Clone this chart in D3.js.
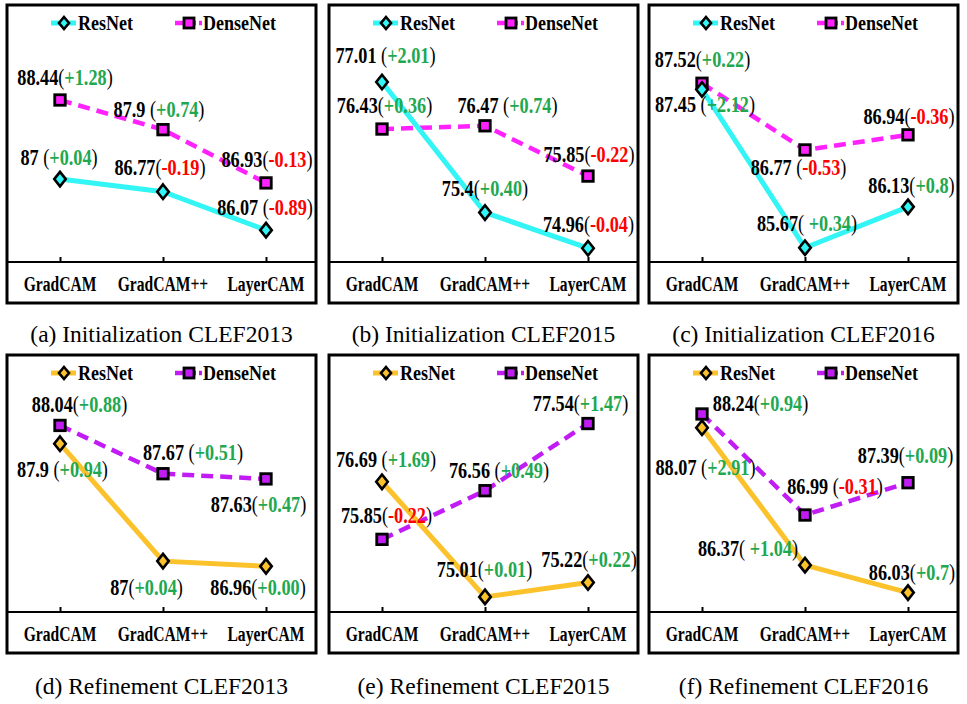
<!DOCTYPE html>
<html>
<head>
<meta charset="utf-8">
<script src="https://cdn.jsdelivr.net/npm/d3@7"></script>
<style>
  html, body { margin: 0; padding: 0; background: #fff; }
  svg { display: block; }
</style>
</head>
<body>
<svg id="chart" width="967" height="704"></svg>
<script>
// ---------------- DATA ----------------
const categories = ["GradCAM", "GradCAM++", "LayerCAM"];
const seriesNames = ["ResNet", "DenseNet"];
const panelTitles = [
  "(a) Initialization CLEF2013", "(b) Initialization CLEF2015", "(c) Initialization CLEF2016",
  "(d) Refinement CLEF2013", "(e) Refinement CLEF2015", "(f) Refinement CLEF2016"
];
const resnetValues = [
  [87, 86.77, 86.07],
  [77.01, 75.4, 74.96],
  [87.45, 85.67, 86.13],
  [87.9, 87, 86.96],
  [76.69, 75.01, 75.22],
  [88.07, 86.37, 86.03]
];
const densenetValues = [
  [88.44, 87.9, 86.93],
  [76.43, 76.47, 75.85],
  [87.52, 86.77, 86.94],
  [88.04, 87.67, 87.63],
  [75.85, 76.56, 77.54],
  [88.24, 86.99, 87.39]
];
const resnetDeltas = [
  ["+0.04", "-0.19", "-0.89"],
  ["+2.01", "+0.40", "-0.04"],
  ["+2.12", " +0.34", "+0.8"],
  ["+0.94", "+0.04", "+0.00"],
  ["+1.69", "+0.01", "+0.22"],
  ["+2.91", " +1.04", "+0.7"]
];
const densenetDeltas = [
  ["+1.28", "+0.74", "-0.13"],
  ["+0.36", "+0.74", "-0.22"],
  ["+0.22", "-0.53", "-0.36"],
  ["+0.88", "+0.51", "+0.47"],
  ["-0.22", "+0.49", "+1.47"],
  ["+0.94", "-0.31", "+0.09"]
];
const yDomains = [
  [85.49, 90.17],
  [74.79, 77.96],
  [85.51, 88.40],
  [86.61, 88.58],
  [74.79, 78.54],
  [85.79, 88.97]
];

// ---------------- LAYOUT / STYLE ----------------
const boxX = [7, 329, 649];
const boxY = [5, 355];
const boxW = 309, boxH = 298, plotH = 257;
const captionY = [342, 694];
const resGap = [[" ", "", " "], [" ", "", ""], [" ", "", ""], [" ", "", ""], [" ", "", ""], [" ", "", ""]];
const denGap = [["", " ", ""], ["", " ", ""], ["", " ", ""], ["", " ", ""], ["", " ", ""], ["", " ", ""]];
const resOff = [
  [[-1, -14], [-3, -17], [-1, -15]],
  [[3.5, -19], [0, -17], [0.5, -16]],
  [[3, 23], [2, -17], [3.5, -14]],
  [[2.5, 33], [-16.5, 34], [-8, 29]],
  [[4, -15], [-0.5, -20], [1, -16]],
  [[3.5, 47], [-57, -9], [4, -13]]
];
const denOff = [
  [[5, -15], [-4, -13], [1, -16]],
  [[2.5, -16], [22.5, -13], [1, -14]],
  [[0.5, -16], [-6.5, 25], [1, -11]],
  [[19.5, -13], [30, -14], [-7.5, 33]],
  [[4.5, -16], [14, -13], [-7.5, -13]],
  [[58.5, -3], [30, -21], [-2.5, -20]]
];
const rowColors = [
  { res: "#33f5f5", den: "#ff22ff" },
  { res: "#fcc22c", den: "#c21cf5" }
];
const GREEN = "#1fa84f", RED = "#ff0000";
const SERIF = "'Liberation Serif', 'Times New Roman', serif";

const svg = d3.select("#chart");

function diamond(g, x, y, fill, w, h) {
  g.append("path")
    .attr("d", `M${x},${y - h / 2} L${x + w / 2},${y} L${x},${y + h / 2} L${x - w / 2},${y} Z`)
    .attr("fill", fill).attr("stroke", "#000").attr("stroke-width", 2.6)
    .attr("stroke-linejoin", "miter");
}
function square(g, x, y, fill, s) {
  g.append("rect").attr("x", x - s / 2).attr("y", y - s / 2)
    .attr("width", s).attr("height", s)
    .attr("fill", fill).attr("stroke", "#000").attr("stroke-width", 2.8);
}

function drawLabel(g, x, y, value, gap, delta) {
  const t = g.append("g").attr("transform", `translate(${x},${y}) scale(0.76,1)`)
    .append("text")
    .attr("text-anchor", "middle")
    .attr("font-family", SERIF)
    .attr("font-size", 24)
    .attr("xml:space", "preserve");
  t.append("tspan").attr("font-weight", "bold").attr("fill", "#000").text(String(value) + gap);
  t.append("tspan").attr("fill", "#000").attr("font-weight", "normal").text("(");
  const neg = delta.trim().startsWith("-");
  t.append("tspan").attr("fill", neg ? RED : GREEN)
    .attr("font-weight", "bold")
    .text(delta);
  t.append("tspan").attr("fill", "#000").attr("font-weight", "normal").text(")");
}

for (let p = 0; p < 6; p++) {
  const row = Math.floor(p / 3), col = p % 3;
  const bx = boxX[col], by = boxY[row];
  const colors = rowColors[row];
  const g = svg.append("g");

  const x = d3.scalePoint().domain(categories).range([bx + 53, bx + 259]);
  const y = d3.scaleLinear().domain(yDomains[p]).range([by + plotH, by]);

  g.append("rect").attr("x", bx).attr("y", by).attr("width", boxW).attr("height", boxH)
    .attr("fill", "none").attr("stroke", "#000").attr("stroke-width", 3);

  const axis = d3.axisTop(x).tickSize(5).tickFormat("");
  const ax = g.append("g").attr("transform", `translate(0,${by + plotH})`).call(axis);
  ax.select(".domain").attr("stroke", "#000").attr("stroke-width", 2.2)
    .attr("d", `M${bx},0H${bx + boxW}`);
  ax.selectAll(".tick line").attr("stroke", "#000").attr("stroke-width", 2);

  categories.forEach(c => {
    g.append("g").attr("transform", `translate(${x(c)},${by + plotH + 29}) scale(0.78,1)`)
      .append("text").attr("text-anchor", "middle")
      .attr("font-family", SERIF).attr("font-weight", "bold").attr("font-size", 20)
      .attr("fill", "#000").text(c);
  });

  const line = d3.line().x((d, i) => x(categories[i])).y(d => y(d));

  g.append("path").datum(densenetValues[p]).attr("d", line)
    .attr("fill", "none").attr("stroke", colors.den).attr("stroke-width", 4.5)
    .attr("stroke-dasharray", "12,7");
  g.append("path").datum(resnetValues[p]).attr("d", line)
    .attr("fill", "none").attr("stroke", colors.res).attr("stroke-width", 5);

  densenetValues[p].forEach((v, i) => square(g, x(categories[i]), y(v), colors.den, 10.5));
  resnetValues[p].forEach((v, i) => diamond(g, x(categories[i]), y(v), colors.res, 11.5, 14.5));

  resnetValues[p].forEach((v, i) => {
    const o = resOff[p][i];
    drawLabel(g, x(categories[i]) + o[0], y(v) + o[1], v, resGap[p][i], resnetDeltas[p][i]);
  });
  densenetValues[p].forEach((v, i) => {
    const o = denOff[p][i];
    drawLabel(g, x(categories[i]) + o[0], y(v) + o[1], v, denGap[p][i], densenetDeltas[p][i]);
  });

  const ly = by + 18;
  g.append("line").attr("x1", bx + 44).attr("x2", bx + 69).attr("y1", ly).attr("y2", ly)
    .attr("stroke", colors.res).attr("stroke-width", 5);
  diamond(g, bx + 57, ly, colors.res, 10, 12);
  g.append("g").attr("transform", `translate(${bx + 71},${ly + 7}) scale(0.9,1)`)
    .append("text").attr("font-family", SERIF).attr("font-weight", "bold").attr("font-size", 20)
    .attr("fill", "#000").text(seriesNames[0]);
  g.append("line").attr("x1", bx + 168).attr("x2", bx + 195).attr("y1", ly).attr("y2", ly)
    .attr("stroke", colors.den).attr("stroke-width", 4.5).attr("stroke-dasharray", "9,3");
  square(g, bx + 182, ly, colors.den, 10);
  g.append("g").attr("transform", `translate(${bx + 196},${ly + 7}) scale(0.9,1)`)
    .append("text").attr("font-family", SERIF).attr("font-weight", "bold").attr("font-size", 20)
    .attr("fill", "#000").text(seriesNames[1]);

  svg.append("text").attr("x", bx + boxW / 2).attr("y", captionY[row])
    .attr("text-anchor", "middle").attr("font-family", SERIF).attr("font-size", 23.5)
    .attr("fill", "#000").text(panelTitles[p]);
}
</script>
</body>
</html>
